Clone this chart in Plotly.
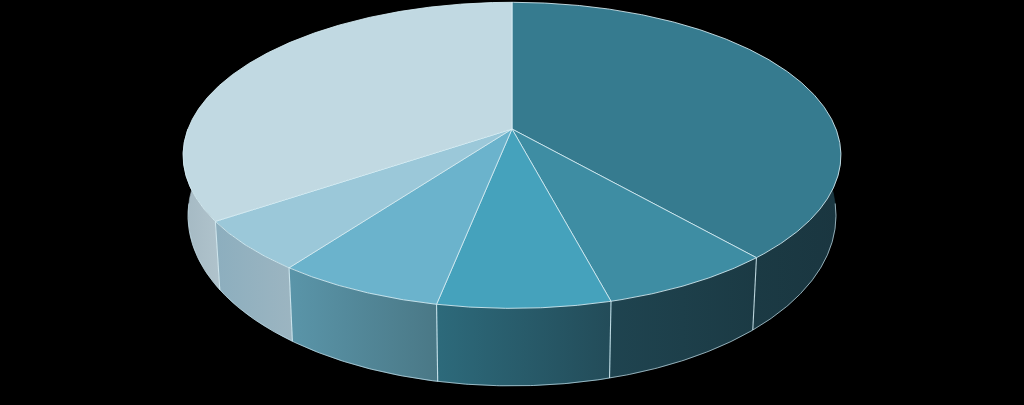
import numpy as np
import plotly.graph_objects as go

# ---- data ----
categories = ["Slice 1", "Slice 2", "Slice 3", "Slice 4", "Slice 5", "Slice 6"]
values = [38.6, 7.3, 7.2, 7.0, 5.4, 34.5]
top_colors = ["#367B8F", "#3E8DA3", "#45A2BC", "#6BB3CC", "#9BC8D9", "#C1D9E2"]
side_left = ["#1B3A44", "#1F4450", "#2D6A7B", "#5A95A9", "#8CAEBE", "#A4B9C3"]
side_right = ["#1A3640", "#1B3A44", "#234C59", "#4A7886", "#9CB5C1", "#B0C3CC"]

# ---- projection (perspective-tilted disc) ----
CX, CY = 512.0, 129.0
A, B, K = 324.0, 148.5, 0.172
SHRINK = 0.985
LINE = "rgba(215,238,246,0.85)"


def top_pt(theta_deg):
    t = np.radians(theta_deg)
    X = np.sin(t)
    Y = -np.cos(t)
    s = 1.0 / (1.0 - K * Y)
    return CX + A * X * s, CY + B * Y * s, Y


def bot_pt(theta_deg):
    x, y, Y = top_pt(theta_deg)
    depth = 56.5 + 21.0 * Y
    return CX + (x - CX) * SHRINK, y + depth


total = float(sum(values))
bounds = np.concatenate([[0.0], np.cumsum(values) / total * 360.0])

fig = go.Figure()

# sides
VIS0, VIS1 = 90.0, 270.0
for i in range(len(values)):
    a0, a1 = max(bounds[i], VIS0), min(bounds[i + 1], VIS1)
    if a1 <= a0:
        continue
    th = np.linspace(a0, a1, max(20, int((a1 - a0) * 3)))
    tx, ty, _ = top_pt(th)
    bx, by = bot_pt(th)
    xs = np.concatenate([tx, bx[::-1], tx[:1]])
    ys = np.concatenate([ty, by[::-1], ty[:1]])
    fig.add_trace(go.Scatter(
        x=xs, y=ys, mode="lines", fill="toself",
        line=dict(width=0.6, color=side_left[i]),
        fillgradient=dict(type="horizontal",
                          colorscale=[[0, side_left[i]], [1, side_right[i]]]),
        hoverinfo="skip", showlegend=False))

# side boundary lines
for b in bounds[1:-1]:
    if VIS0 < b < VIS1:
        tx, ty, _ = top_pt(b)
        bx, by = bot_pt(b)
        fig.add_trace(go.Scatter(x=[tx, bx], y=[ty, by], mode="lines",
                                 line=dict(width=1.1, color=LINE),
                                 hoverinfo="skip", showlegend=False))

# bottom outline
thb = np.linspace(96, 264, 400)
bx, by = bot_pt(thb)
fig.add_trace(go.Scatter(x=bx, y=by, mode="lines",
                         line=dict(width=1.0, color="rgba(200,225,235,0.7)"),
                         hoverinfo="skip", showlegend=False))

# top faces
for i in range(len(values)):
    a0, a1 = bounds[i], bounds[i + 1]
    th = np.linspace(a0, a1, max(30, int((a1 - a0) * 3)))
    tx, ty, _ = top_pt(th)
    xs = np.concatenate([[CX], tx, [CX]])
    ys = np.concatenate([[CY], ty, [CY]])
    fig.add_trace(go.Scatter(
        x=xs, y=ys, mode="lines", fill="toself",
        fillcolor=top_colors[i],
        line=dict(width=1.0, color=LINE),
        name=categories[i], hoverinfo="name", showlegend=False))

fig.update_layout(
    width=1024, height=405,
    margin=dict(l=0, r=0, t=0, b=0),
    paper_bgcolor="black", plot_bgcolor="black",
    xaxis=dict(range=[0, 1024], visible=False, fixedrange=True),
    yaxis=dict(range=[405, 0], visible=False, fixedrange=True),
    showlegend=False,
)

fig.write_html(
    "out.html",
    config={"displayModeBar": False},
    post_script="document.body.style.margin='0';document.body.style.padding='0';"
                "document.body.style.background='black';document.body.style.overflow='hidden';",
)
